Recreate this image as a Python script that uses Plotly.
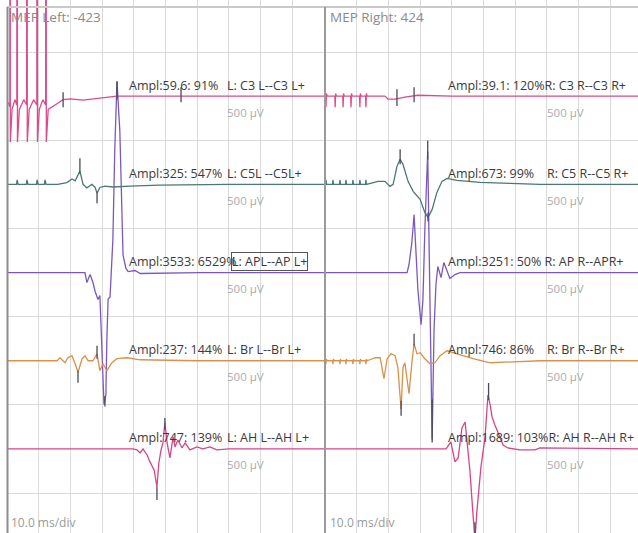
import numpy as np
import plotly.graph_objects as go

# ---------------- DATA (time in ms, amplitude in µV relative to channel baseline) ----------------
# LEFT side
C3L_t = [0, 0.6, 0.9, 0.95, 1.05, 1.6, 2.5, 3.1, 3.2, 3.3, 3.9, 5.3, 6.2, 6.3, 6.4, 7.0, 8.4, 9.4, 9.5, 9.6,
         10.2, 11.3, 12.2, 12.3, 12.4, 13.0, 14.5, 16.0, 17.7, 20, 24, 28, 31, 34.7, 40, 60, 100]
C3L_v = [-60, -90, -120, 9000, -520, -150, -40, -100, 9000, -520, -150, -40, -100, 9000, -520, -150, -40, -100,
         9000, -520, -150, -40, -100, 9000, -520, -150, -110, -80, -40, -30, -45, -30, -20, 0, 0, 0, 0]

C5L_t = [0, 3.0, 3.2, 3.5, 6.1, 6.3, 6.6, 9.3, 9.5, 9.8, 11.8, 12.0, 12.3, 16.0, 18.9, 20.5, 21.5, 22.4, 23.0,
         24.0, 25.2, 26.8, 27.8, 28.4, 29.3, 30.9, 33.4, 38.8, 48.0, 70.0, 100]
C5L_v = [0, 0, 50, 0, 0, 50, 0, 0, 50, 0, 0, 50, 0, 0, 20, 60, 40, 100, 150,
         0, -40, 0, -35, -100, -35, -20, -30, -20, -10, 0, 0]

APL_t = [0, 24.6, 25.2, 26.2, 27.1, 27.8, 28.7, 29.3, 30.6, 31.2, 31.5, 31.9, 32.5, 33.4, 34.0, 34.7, 35.6,
         36.6, 37.5, 38.2, 40.4, 42.0, 60.9, 100]
APL_v = [0, 0, -113, -23, -110, -215, -306, -261, -1497, -1383, -760, -300, -280, 374, 1400, 2166, 1600,
         200, 50, 10, 23, -11, 0, 0]

BrL_t = [0, 15.8, 16.7, 18.3, 19.2, 20.5, 21.5, 22.4, 23.7, 24.6, 25.6, 27.1, 28.4, 29.3, 30.3, 31.5, 33.1,
         34.7, 37.9, 42.0, 60, 100]
BrL_v = [0, 0, 34, -23, 34, 57, -34, -130, 23, 57, 0, 0, 79, -113, -34, -113, -23, 23, 34, 11, 0, 0]

AHL_t = [0, 39.7, 41.0, 42.0, 42.9, 44.2, 45.1, 46.4, 47.3, 47.9, 48.6, 49.2, 49.8, 50.5, 51.4, 52.4, 53.0,
         53.9, 55.2, 56.2, 57.7, 59.9, 61.8, 64.0, 66.2, 70, 100]
AHL_v = [0, 0, -10, -45, 0, -68, -147, -238, -431, -159, -11, 68, 295, 68, -102, 136, 23,
         102, 11, 68, -11, 23, 0, 23, -11, 0, 0]

# RIGHT side
C3R_t = [0, 0.2, 0.3, 0.45, 0.7, 3.1, 3.2, 3.35, 3.6, 5.6, 5.7, 5.85, 6.1, 8.1, 8.2, 8.35, 8.6, 10.9, 11.0,
         11.15, 11.4, 12.8, 12.9, 13.05, 13.3, 14.5, 18.9, 19.9, 22.1, 25.2, 29.3, 40, 100]
C3R_v = [0, 0, -125, 30, 0, 0, -125, 30, 0, 0, -125, 30, 0, 0, -125, 30, 0, 0, -125,
         30, 0, 0, -125, 30, 0, 0, 0, -34, -34, -10, 10, 0, 0]

C5R_t = [0, 0.2, 0.3, 0.5, 2.4, 2.5, 2.7, 4.6, 4.7, 4.9, 6.5, 6.6, 6.8, 8.7, 8.8, 9.0, 10.9, 11.0, 11.2, 12.8,
         12.9, 13.1, 16.7, 18.9, 20.5, 21.5, 22.7, 23.7, 24.6, 26.2, 27.8, 30.0, 31.5, 32.5, 33.8, 35.3,
         36.9, 38.5, 41.6, 48.9, 58.4, 67.8, 100]
C5R_v = [0, 0, 50, 0, 0, 50, 0, 0, 50, 0, 0, 50, 0, 0, 50, 0, 0, 50, 0, 0,
         50, 0, 34, 34, -23, 0, 204, 284, 227, 34, -79, -170, -318, -374, -284, -91,
         34, 68, 45, 23, 11, 0, 0]

APR_t = [0, 25.9, 26.5, 27.1, 27.4, 28.1, 28.7, 29.3, 30.3, 30.9, 31.5, 32.4, 33.1, 33.8, 34.4, 35.0, 35.6,
         36.6, 37.5, 38.5, 39.4, 41.0, 42.6, 100]
APR_v = [0, 0, 91, 284, 340, 658, 261, -193, -590, -306, 488, 1372, -306, -1894, -646, -136, 68,
         -57, 113, 11, -68, -23, 0, 0]

BrR_t = [0, 0.2, 0.3, 0.45, 0.7, 2.4, 2.5, 2.65, 2.9, 4.6, 4.7, 4.85, 5.1, 6.5, 6.6, 6.75, 7.0, 8.7, 8.8,
         8.95, 9.2, 10.9, 11.0, 11.15, 11.4, 12.8, 12.9, 13.05, 13.3, 15.8, 17.4, 18.6, 19.6, 20.8, 22.1,
         23.0, 24.0, 24.6, 25.2, 25.9, 26.5, 27.4, 28.1, 29.0, 30.0, 31.5, 33.1, 34.7, 36.3, 38.5, 41.6,
         46.7, 52.1, 61.5, 67.8, 100]
BrR_v = [0, 0, -40, 20, 0, 0, -40, 20, 0, 0, -40, 20, 0, 0, -40, 20, 0, 0, -40,
         20, 0, 0, -40, 20, 0, 0, -40, 20, 0, 34, 34, -204, 23, 79, 57,
         -79, -550, -79, -23, -227, -374, -23, 193, 79, 91, 23, -34, -23, 57, 113, 79,
         23, -23, -11, 0, 0]

AHR_t = [0, 38.2, 39.7, 41.0, 42.0, 43.2, 44.2, 44.8, 45.7, 46.7, 47.3, 47.9, 49.2, 50.5, 51.4, 52.1, 52.7,
         53.6, 54.9, 56.2, 57.7, 61.5, 66.2, 67.8, 100]
AHR_v = [0, 0, 79, -147, -102, 238, 306, 102, -238, -748, -1032, -714, -204, 136, 612, 499, 363,
         272, 159, 45, 11, -11, -11, 11, 0]

# latency cursor markers: channel index, time (ms), low / high (µV rel. baseline)
MKL_ch = [0, 0, 1, 1, 2, 2, 3, 3, 4, 4]
MKL_t = [17.7, 54.9, 23.0, 28.4, 34.7, 30.9, 22.4, 28.4, 47.3, 49.8]
MKL_lo = [-125, -68, 136, -215, 1960, -1520, -249, 23, -578, 215]
MKL_hi = [45, 102, 295, -91, 2170, -1400, -113, 170, -431, 351]

MKR_ch = [0, 0, 1, 1, 2, 2, 3, 3, 4, 4]
MKR_t = [22.7, 28.1, 23.7, 32.5, 32.4, 33.8, 24.0, 28.1, 47.3, 51.6]
MKR_lo = [-113, -68, 227, -420, 1281, -1928, -624, 170, -955, 556]
MKR_hi = [79, 102, 397, -318, 1497, -1440, -454, 306, -830, 748]

# annotation texts
AMPL_L = ["Ampl:59.6: 91%", "Ampl:325: 547%", "Ampl:3533: 6529%", "Ampl:237: 144%", "Ampl:747: 139%"]
CHAN_L = ["L: C3 L--C3 L+", "L: C5L --C5L+", "L: APL--AP L+", "L: Br L--Br L+", "L: AH L--AH L+"]
AMPL_R = ["Ampl:39.1: 120%", "Ampl:673: 99%", "Ampl:3251: 50%", "Ampl:746: 86%", "Ampl:1689: 103%"]
CHAN_R = ["R: C3 R--C3 R+", "R: C5 R--C5 R+", "R: AP R--APR+", "R: Br R--Br R+", "R: AH R--AH R+"]
SENS = "500 µV"
TITLE_L = "MEP Left: -423"
TITLE_R = "MEP Right: 424"
TIMEBASE = "10.0 ms/div"

# ---------------- STYLE / LAYOUT ----------------
W, H = 638, 533
BASE = [-500, -1500, -2500, -3500, -4500]
COLORS = ["#dc4a8c", "#4b7774", "#7b58c0", "#d9914c", "#d8448a"]
FONT = "Open Sans"

left = [(C3L_t, C3L_v), (C5L_t, C5L_v), (APL_t, APL_v), (BrL_t, BrL_v), (AHL_t, AHL_v)]
right = [(C3R_t, C3R_v), (C5R_t, C5R_v), (APR_t, APR_v), (BrR_t, BrR_v), (AHR_t, AHR_v)]

fig = go.Figure()
for xa, chans in (("x", left), ("x2", right)):
    for i, (t, v) in enumerate(chans):
        fig.add_trace(go.Scatter(x=t, y=np.array(v, float) + BASE[i], mode="lines",
                                 line=dict(color=COLORS[i], width=1.3),
                                 xaxis=xa, yaxis="y", hoverinfo="skip", showlegend=False))


def marker_xy(ch, t, lo, hi):
    xs, ys = [], []
    for c, tt, a, b in zip(ch, t, lo, hi):
        xs += [tt, tt, None]
        ys += [a + BASE[c], b + BASE[c], None]
    return xs, ys


for xa, mk in (("x", (MKL_ch, MKL_t, MKL_lo, MKL_hi)), ("x2", (MKR_ch, MKR_t, MKR_lo, MKR_hi))):
    xs, ys = marker_xy(*mk)
    fig.add_trace(go.Scatter(x=xs, y=ys, mode="lines", line=dict(color="#4a4a5a", width=1.3),
                             xaxis=xa, yaxis="y", hoverinfo="skip", showlegend=False))

px = 3.17  # px per ms
ann = []
txt_col = "#3a3a3a"
sens_col = "#ababab"
TS = 12.5
NB = "\u00a0"


def label(x, y, xref, text, size=TS, color=txt_col, **kw):
    d = dict(x=x, y=y, xref=xref, yref="y", text=text, showarrow=False, xanchor="left",
             yanchor="middle", font=dict(family=FONT, size=size, color=color))
    d.update(kw)
    return d


for i in range(5):
    yb = BASE[i]
    # left panel
    ann.append(label(37.9, yb + 125, "x", AMPL_L[i]))
    if i == 2:
        ann.append(label(70.6, yb + 125, "x", CHAN_L[i], bordercolor="#555555", borderwidth=1,
                         borderpad=0))
    else:
        ann.append(label(68.8, yb + 125, "x", CHAN_L[i]))
    ann.append(label(68.8, yb - 180, "x", SENS, size=11.5, color=sens_col))
    # right panel
    if i in (0, 4):
        ann.append(label(38.2, yb + 125, "x2", AMPL_R[i] + CHAN_R[i]))
    elif i == 2:
        ann.append(label(38.2, yb + 125, "x2", AMPL_R[i] + NB + CHAN_R[i]))
    else:
        ann.append(label(38.2, yb + 125, "x2", AMPL_R[i]))
        ann.append(label(69.4, yb + 125, "x2", CHAN_R[i]))
    ann.append(label(69.4, yb - 180, "x2", SENS, size=11.5, color=sens_col))

for xp, txt in ((9 / W, TITLE_L), (328 / W, TITLE_R)):
    ann.append(dict(x=xp, y=1 - 17 / H, xref="paper", yref="paper", text=txt, showarrow=False,
                    xanchor="left", yanchor="middle", font=dict(family=FONT, size=13.5, color="#8a8a8a")))
for xp in (9 / W, 328 / W):
    ann.append(dict(x=xp, y=1 - 522 / H, xref="paper", yref="paper", text=TIMEBASE, showarrow=False,
                    xanchor="left", yanchor="middle", font=dict(family=FONT, size=12, color="#9a9a9a")))

shapes = [
    dict(type="line", xref="paper", yref="paper", x0=7 / W, x1=1, y0=1 - 7 / H, y1=1 - 7 / H,
         line=dict(color="#c9c9c9", width=2)),
    dict(type="line", xref="paper", yref="paper", x0=7.5 / W, x1=7.5 / W, y0=0, y1=1 - 7 / H,
         line=dict(color="#8c8c8c", width=2)),
    dict(type="line", xref="paper", yref="paper", x0=325 / W, x1=325 / W, y0=0, y1=1 - 7 / H,
         line=dict(color="#9a9a9a", width=2)),
]

axis_common = dict(showgrid=True, gridcolor="#dadada", gridwidth=1, showticklabels=False,
                   zeroline=False, ticks="", showline=False, tick0=0, dtick=10)
fig.update_layout(
    width=W, height=H, margin=dict(l=0, r=0, t=0, b=0),
    paper_bgcolor="white", plot_bgcolor="white",
    xaxis=dict(domain=[7 / W, 324 / W], range=[0, 100], anchor="y", **axis_common),
    xaxis2=dict(domain=[325 / W, 1], range=[0, (W - 325) / px], anchor="y", **axis_common),
    yaxis=dict(domain=[0, 1], range=[-5453, 590], tick0=0, dtick=1000, showgrid=True,
               gridcolor="#dadada", gridwidth=1, showticklabels=False, zeroline=False,
               ticks="", showline=False),
    annotations=ann, shapes=shapes, showlegend=False,
)

fig.write_html("out.html", config={"displayModeBar": False})
